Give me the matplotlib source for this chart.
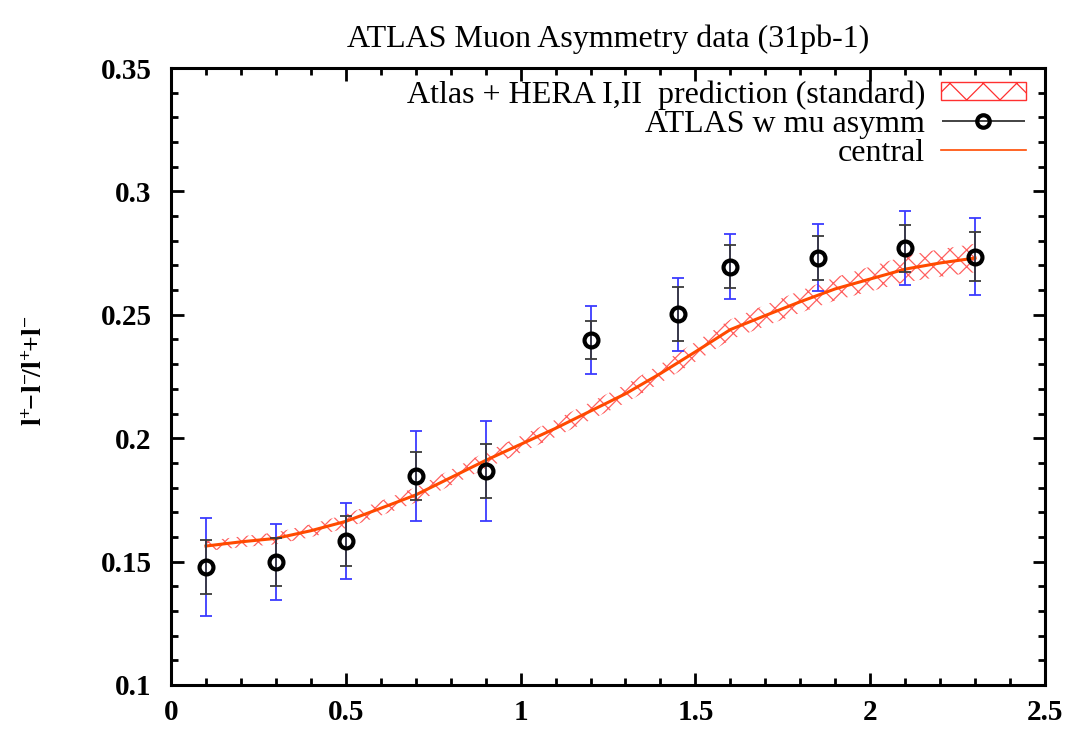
import matplotlib
matplotlib.use("Agg")
import matplotlib.pyplot as plt
import numpy as np
from matplotlib.ticker import MultipleLocator, FormatStrFormatter
from matplotlib.patches import Patch
from matplotlib.lines import Line2D
from matplotlib.legend_handler import HandlerErrorbar

plt.rcParams['font.family'] = ['Liberation Serif', 'DejaVu Serif']
plt.rcParams['mathtext.fontset'] = 'custom'
plt.rcParams['mathtext.rm'] = 'Liberation Serif'
plt.rcParams['mathtext.bf'] = 'Liberation Serif:bold'
plt.rcParams['mathtext.it'] = 'Liberation Serif:italic'
plt.rcParams['hatch.linewidth'] = 0.9

# ---- data ----
eta = [0.1, 0.3, 0.5, 0.7, 0.9, 1.2, 1.45, 1.6, 1.85, 2.1, 2.3]
asym = [0.1478, 0.1498, 0.1583, 0.1847, 0.1868, 0.2398, 0.2503, 0.2695, 0.2731, 0.2770, 0.2736]
err_tot = [0.0200, 0.0155, 0.0155, 0.0181, 0.0202, 0.0138, 0.0148, 0.0133, 0.0136, 0.0150, 0.0156]
err_stat = [0.0110, 0.0098, 0.0100, 0.0099, 0.0110, 0.0078, 0.0111, 0.0087, 0.0090, 0.0095, 0.0100]

pred_x = [0.1, 0.2, 0.3, 0.4, 0.5, 0.6, 0.7, 0.8, 0.9, 1.0, 1.1, 1.2,
          1.3, 1.4, 1.5, 1.6, 1.7, 1.8, 1.9, 2.0, 2.1, 2.2, 2.3]
pred_c = [0.1563, 0.1580, 0.1594, 0.1625, 0.1663, 0.1716, 0.1770, 0.1840,
          0.1910, 0.1975, 0.2040, 0.2110, 0.2180, 0.2262, 0.2350, 0.2440,
          0.2497, 0.2553, 0.2605, 0.2645, 0.2685, 0.2710, 0.2730]
pred_w = [0.0020, 0.0022, 0.0024, 0.0026, 0.0028, 0.0030, 0.0031, 0.0032,
          0.0033, 0.0034, 0.0035, 0.0036, 0.0037, 0.0038, 0.0040, 0.0041,
          0.0043, 0.0045, 0.0047, 0.0050, 0.0053, 0.0056, 0.0058]

xlim = (0, 2.5)
ylim = (0.1, 0.35)
title = "ATLAS Muon Asymmetry data (31pb-1)"
lab_band = "Atlas + HERA I,II  prediction (standard)"
lab_data = "ATLAS w mu asymm"
lab_line = "central"

# ---- figure ----
fig = plt.figure(figsize=(10.72, 7.29), dpi=100)
ax = fig.add_axes([0.1595, 0.0604, 0.8153, 0.8463])

px = np.array(pred_x)
pc = np.array(pred_c)
pw = np.array(pred_w)
ax.fill_between(px, pc - pw, pc + pw, facecolor='none', edgecolor='#ff6060',
                hatch='xx', linewidth=0, zorder=2)
ax.plot(px, pc, color='#ff4a00', lw=2.2, zorder=3)

ax.errorbar(eta, asym, yerr=err_tot, fmt='none', ecolor='#3b3bff', elinewidth=1.3,
            capsize=4, capthick=1.3, zorder=4)
ax.errorbar(eta, asym, yerr=err_stat, fmt='none', ecolor='#3a3a3a', elinewidth=1.3,
            capsize=4, capthick=1.3, zorder=5)
ax.plot(eta, asym, 'o', ms=10, mfc='none', mec='black', mew=3.0, zorder=6)

ax.set_xlim(*xlim)
ax.set_ylim(*ylim)
ax.xaxis.set_major_locator(MultipleLocator(0.5))
ax.xaxis.set_minor_locator(MultipleLocator(0.1))
ax.yaxis.set_major_locator(MultipleLocator(0.05))
ax.yaxis.set_minor_locator(MultipleLocator(0.01))
ax.xaxis.set_major_formatter(FormatStrFormatter('%g'))
ax.yaxis.set_major_formatter(FormatStrFormatter('%g'))
ax.tick_params(which='both', direction='in', top=True, right=True, width=2)
ax.tick_params(which='major', length=9, labelsize=21)
ax.tick_params(axis='x', which='major', pad=10)
ax.tick_params(axis='y', which='major', pad=14)
ax.tick_params(which='minor', length=5)
for t in ax.get_xticklabels() + ax.get_yticklabels():
    t.set_fontweight('bold')
for s in ax.spines.values():
    s.set_linewidth(2.2)

ax.set_title(title, fontsize=23, pad=15)
ax.set_ylabel(r'$\mathbf{l^{+}\!\!-\!l^{-}\!/l^{+}\!\!+\!l^{-}}$', fontsize=20)
ax.yaxis.set_label_coords(-0.141, 0.51)

h_band = Patch(facecolor='white', edgecolor='#ff3030', hatch='x', linewidth=1)
h_data = ax.errorbar([], [], xerr=[], fmt='o', ms=9, mfc='none', mec='black',
                     mew=3.0, ecolor='#222222', elinewidth=1.2, capsize=4, capthick=1.2)
h_line = Line2D([], [], color='#ff4a00', lw=1.2)
leg = ax.legend([h_band, h_data, h_line], [lab_band, lab_data, lab_line],
                loc='upper right', bbox_to_anchor=(1 - 16 / 874, 1 - 9 / 617),
                frameon=False, markerfirst=False,
                fontsize=23, handlelength=2.65, handleheight=0.5, handletextpad=0.5,
                labelspacing=0.0, borderaxespad=0.0, borderpad=0.1,
                handler_map={h_data: HandlerErrorbar(xerr_size=1.3)})

fig.savefig('out.png', dpi=100)
